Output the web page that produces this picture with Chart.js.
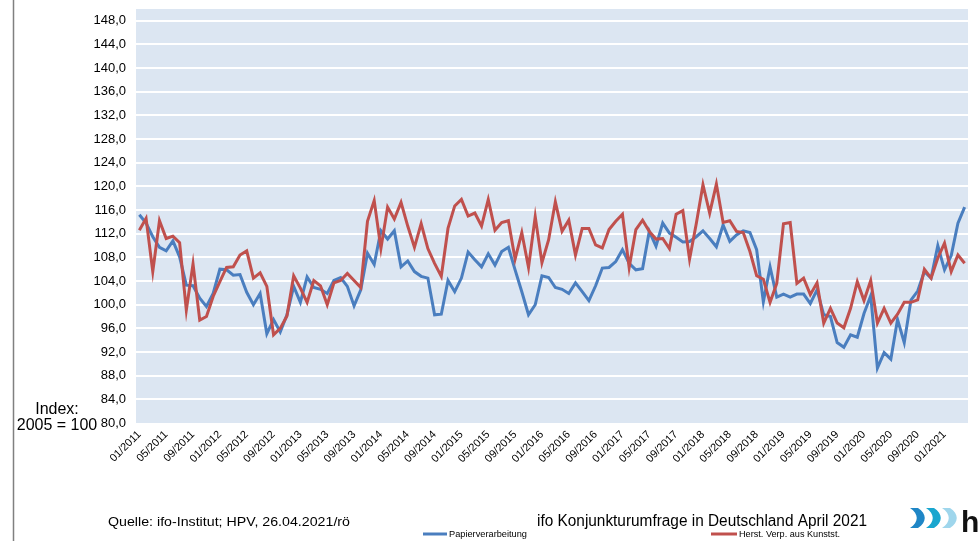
<!DOCTYPE html>
<html>
<head>
<meta charset="utf-8">
<script src="https://cdn.jsdelivr.net/npm/chart.js@4.4.0/dist/chart.umd.min.js"></script>
<style>
html, body { margin: 0; padding: 0; background: #fff; }
canvas { display: block; }
</style>
</head>
<body>
<canvas id="chart" width="979" height="541"></canvas>
<script>
// ifo Geschaeftsklima, Index 2005 = 100, monthly 01/2011 - 04/2021
var papier = [
  115.2, 113.8, 111.5, 109.7, 109.1, 110.8, 108.1, 103.3, 103.2, 101.1, 99.7, 101.9,
  106.0, 105.9, 105.0, 105.1, 102.1, 100.0, 101.9, 95.1, 97.5, 95.4, 98.3, 103.1,
  100.4, 104.7, 102.9, 102.6, 101.9, 104.1, 104.6, 103.1, 99.8, 102.5, 108.7, 106.8,
  112.5, 111.1, 112.5, 106.4, 107.4, 105.6, 104.8, 104.5, 98.3, 98.4, 104.1, 102.2,
  104.5, 108.9, 107.6, 106.4, 108.6, 106.7, 109.0, 109.7, 105.9, 102.2, 98.3, 100.0,
  104.9, 104.6, 102.9, 102.6, 101.9, 103.7, 102.2, 100.7, 103.2, 106.2, 106.3, 107.3,
  109.3, 107.0, 105.9, 106.1, 112.4, 109.9, 113.8, 112.1, 111.4, 110.6, 110.7, 111.5,
  112.5, 111.2, 109.8, 113.5, 110.7, 111.8, 112.5, 112.2, 109.3, 100.5, 106.4, 101.3,
  101.8, 101.3, 101.8, 101.8, 100.2, 102.5, 98.3, 98.0, 93.6, 92.8, 94.9, 94.5,
  98.5, 101.5, 89.3, 91.9, 90.8, 97.5, 93.6, 100.8, 102.3, 105.6, 104.5, 110.0,
  105.9, 108.3, 113.8, 116.5
];
var kunststoff = [
  112.6, 114.6, 105.6, 114.2, 111.2, 111.6, 110.5, 99.1, 106.9, 97.4, 98.0, 101.4,
  103.9, 106.3, 106.4, 108.4, 109.1, 104.5, 105.4, 103.1, 94.9, 96.0, 98.1, 104.9,
  102.8, 100.4, 104.1, 103.2, 100.0, 103.7, 104.1, 105.3, 104.1, 102.9, 114.1, 117.6,
  109.5, 116.5, 114.5, 117.3, 113.3, 109.7, 113.7, 109.5, 107.0, 104.8, 112.9, 116.7,
  117.8, 115.0, 115.5, 113.3, 117.8, 112.6, 113.9, 114.2, 107.7, 112.2, 106.3, 114.9,
  107.1, 111.0, 117.4, 112.4, 114.3, 108.4, 112.9, 112.9, 110.1, 109.6, 112.7, 114.1,
  115.3, 106.3, 112.7, 114.3, 112.4, 111.1, 111.2, 109.5, 115.3, 115.9, 107.7, 113.7,
  120.3, 115.5, 120.4, 113.9, 114.2, 112.4, 112.2, 109.0, 104.9, 104.3, 100.4, 103.6,
  113.7, 113.9, 103.6, 104.5, 101.7, 103.7, 96.9, 99.4, 96.9, 96.1, 99.4, 103.9,
  100.7, 104.1, 96.9, 99.4, 96.9, 98.4, 100.4, 100.4, 100.8, 106.0, 104.5, 107.9,
  110.4, 105.6, 108.4, 107.0
];
var yTicks = [80, 84, 88, 92, 96, 100, 104, 108, 112, 116, 120, 124, 128, 132, 136, 140, 144, 148];

var months = [];
for (var yr = 2011; yr <= 2021; yr++) {
  for (var m = 1; m <= 12; m++) {
    if (months.length < papier.length) months.push((m < 10 ? '0' : '') + m + '/' + yr);
  }
}

var FONT = "'Liberation Sans', Arial, sans-serif";

function fitText(ctx, text, x, y, w) {
  var mw = ctx.measureText(text).width;
  ctx.save();
  ctx.translate(x, y);
  ctx.scale(w / mw, 1);
  ctx.fillText(text, 0, 0);
  ctx.restore();
}

function wave(ctx, x, top, bottom, color) {
  var h = bottom - top;
  ctx.fillStyle = color;
  ctx.beginPath();
  ctx.moveTo(x, top);
  ctx.lineTo(x + 8, top);
  ctx.bezierCurveTo(x + 17, top + h * 0.3, x + 17, top + h * 0.7, x + 8, bottom);
  ctx.lineTo(x, bottom);
  ctx.bezierCurveTo(x + 9, top + h * 0.7, x + 9, top + h * 0.3, x, top);
  ctx.closePath();
  ctx.fill();
}

var decor = {
  id: 'decor',
  beforeDraw: function (chart) {
    var a = chart.chartArea, ctx = chart.ctx;
    ctx.save();
    ctx.fillStyle = '#dce6f2';
    ctx.fillRect(a.left, a.top, a.right - a.left, a.bottom - a.top);
    ctx.restore();
  },
  afterDraw: function (chart) {
    var ctx = chart.ctx;
    ctx.save();
    // slide frame line
    ctx.strokeStyle = '#808080';
    ctx.lineWidth = 1.5;
    ctx.beginPath();
    ctx.moveTo(13.5, 0);
    ctx.lineTo(13.5, 541);
    ctx.stroke();

    ctx.fillStyle = '#000';
    ctx.textAlign = 'center';
    ctx.textBaseline = 'alphabetic';
    ctx.font = '16px ' + FONT;
    ctx.fillText('Index:', 57, 414);
    ctx.fillText('2005 = 100', 57, 430);

    ctx.textAlign = 'left';
    ctx.font = '13px ' + FONT;
    fitText(ctx, 'Quelle: ifo-Institut; HPV, 26.04.2021/rö', 108, 526, 242);
    ctx.font = '16px ' + FONT;
    fitText(ctx, 'ifo Konjunkturumfrage in Deutschland April 2021', 537, 526, 330);

    // legend
    var ds = chart.data.datasets;
    var legendPos = [[423, 447, 449, 78], [711, 737, 739, 101]];
    ctx.font = '9px ' + FONT;
    for (var i = 0; i < ds.length; i++) {
      var p = legendPos[i];
      ctx.strokeStyle = ds[i].borderColor;
      ctx.lineWidth = 3;
      ctx.beginPath();
      ctx.moveTo(p[0], 534);
      ctx.lineTo(p[1], 534);
      ctx.stroke();
      ctx.fillStyle = '#000';
      fitText(ctx, ds[i].label, p[2], 537, p[3]);
    }

    // logo
    wave(ctx, 910, 508, 528, '#1f86c6');
    wave(ctx, 926, 508, 528, '#19a6cf');
    wave(ctx, 942, 508, 528, '#9fd6ec');
    ctx.fillStyle = '#111';
    ctx.font = 'bold 30px ' + FONT;
    ctx.fillText('h', 961, 532);
    ctx.restore();
  }
};

var ctx = document.getElementById('chart').getContext('2d');
var chart = new Chart(ctx, {
  type: 'line',
  data: {
    labels: months,
    datasets: [{
      label: 'Papierverarbeitung',
      data: papier,
      borderColor: '#4a7ebf',
      borderWidth: 3,
      pointRadius: 0,
      tension: 0,
      order: 1
    }, {
      label: 'Herst. Verp. aus Kunstst.',
      data: kunststoff,
      borderColor: '#c0504d',
      borderWidth: 3,
      pointRadius: 0,
      tension: 0,
      order: 0
    }]
  },
  options: {
    responsive: false,
    animation: false,
    devicePixelRatio: 1,
    layout: { padding: { left: 0, top: 9, right: 6, bottom: 0 } },
    plugins: {
      legend: { display: false },
      tooltip: { enabled: false }
    },
    scales: {
      x: {
        offset: true,
        grid: { display: false, drawTicks: false },
        border: { display: false },
        afterFit: function (s) { s.height = 118; },
        ticks: {
          autoSkip: false,
          maxRotation: 45,
          minRotation: 45,
          padding: 5,
          color: '#000',
          font: { family: FONT, size: 11 },
          callback: function (v, i) { return i % 4 === 0 ? this.getLabelForValue(v) : ''; }
        }
      },
      y: {
        min: 80,
        max: 150,
        afterBuildTicks: function (s) {
          s.ticks = yTicks.map(function (v) { return { value: v }; });
        },
        afterFit: function (s) {
          s.width = 136;
          s.paddingTop = 0;
          s.paddingBottom = 0;
        },
        grid: {
          drawTicks: false,
          lineWidth: 2,
          color: function (c) { return c.tick && c.tick.value === 80 ? 'rgba(0,0,0,0)' : '#ffffff'; }
        },
        border: { display: false },
        ticks: {
          padding: 10,
          color: '#000',
          font: { family: FONT, size: 13 },
          callback: function (v) { return v.toFixed(1).replace('.', ','); }
        }
      }
    }
  },
  plugins: [decor]
});
</script>
</body>
</html>
